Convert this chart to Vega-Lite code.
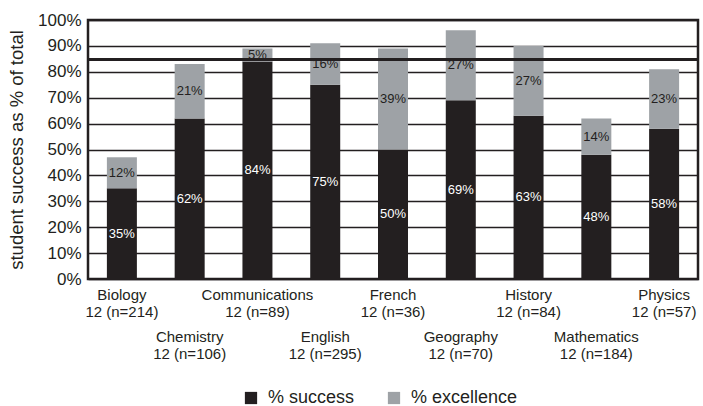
{
  "$schema": "https://vega.github.io/schema/vega-lite/v6.json",
  "width": 610,
  "height": 259,
  "autosize": {"type": "none"},
  "padding": {"left": 88, "top": 20, "right": 5, "bottom": 127},
  "background": "white",
  "config": {
    "font": "Liberation Sans",
    "view": {"stroke": "#231f20", "strokeWidth": 2.5}
  },
  "resolve": {"axis": {"x": "independent"}},
  "data": {
    "values": [
      {"subject": "Biology|12 (n=214)", "type": "% success", "k": 1, "pct": 0.35},
      {"subject": "Biology|12 (n=214)", "type": "% excellence", "k": 2, "pct": 0.12},
      {"subject": "Chemistry|12 (n=106)", "type": "% success", "k": 1, "pct": 0.62},
      {"subject": "Chemistry|12 (n=106)", "type": "% excellence", "k": 2, "pct": 0.21},
      {"subject": "Communications|12 (n=89)", "type": "% success", "k": 1, "pct": 0.84},
      {"subject": "Communications|12 (n=89)", "type": "% excellence", "k": 2, "pct": 0.05},
      {"subject": "English|12 (n=295)", "type": "% success", "k": 1, "pct": 0.75},
      {"subject": "English|12 (n=295)", "type": "% excellence", "k": 2, "pct": 0.16},
      {"subject": "French|12 (n=36)", "type": "% success", "k": 1, "pct": 0.50},
      {"subject": "French|12 (n=36)", "type": "% excellence", "k": 2, "pct": 0.39},
      {"subject": "Geography|12 (n=70)", "type": "% success", "k": 1, "pct": 0.69},
      {"subject": "Geography|12 (n=70)", "type": "% excellence", "k": 2, "pct": 0.27},
      {"subject": "History|12 (n=84)", "type": "% success", "k": 1, "pct": 0.63},
      {"subject": "History|12 (n=84)", "type": "% excellence", "k": 2, "pct": 0.27},
      {"subject": "Mathematics|12 (n=184)", "type": "% success", "k": 1, "pct": 0.48},
      {"subject": "Mathematics|12 (n=184)", "type": "% excellence", "k": 2, "pct": 0.14},
      {"subject": "Physics|12 (n=57)", "type": "% success", "k": 1, "pct": 0.58},
      {"subject": "Physics|12 (n=57)", "type": "% excellence", "k": 2, "pct": 0.23}
    ]
  },
  "layer": [
    {
      "mark": {"type": "bar", "width": 30},
      "encoding": {
        "x": {
          "field": "subject", "type": "nominal", "sort": null,
          "axis": {
            "title": null, "labelAngle": 0, "orient": "bottom",
            "labelExpr": "round(datum.index*8)%2 ? '' : split(datum.label, '|')",
            "labelFontSize": 15, "labelLineHeight": 17, "labelPadding": 8,
            "labelOverlap": false, "labelBound": false, "labelLimit": 0,
            "ticks": false, "domain": false, "grid": false, "labelColor": "#231f20",
            "labelBaseline": "top"
          }
        },
        "y": {
          "field": "pct", "type": "quantitative", "stack": "zero",
          "scale": {"domain": [0, 1], "nice": false},
          "axis": {
            "title": "student success as % of total", "format": ".0%",
            "values": [0, 0.1, 0.2, 0.3, 0.4, 0.5, 0.6, 0.7, 0.8, 0.9, 1],
            "tickCount": 11, "labelOverlap": false,
            "labelFontSize": 17, "titleFontSize": 18.5, "titleFontWeight": "normal",
            "ticks": false, "domain": false,
            "gridColor": "#231f20", "gridWidth": 1.5, "gridOpacity": 1,
            "labelPadding": 7, "titlePadding": 11,
            "labelColor": "#231f20", "titleColor": "#231f20"
          }
        },
        "color": {
          "field": "type", "type": "nominal",
          "scale": {"domain": ["% success", "% excellence"], "range": ["#231f20", "#9ea2a6"]},
          "legend": {
            "title": null, "orient": "none", "legendX": 154, "legendY": 369,
            "direction": "horizontal", "symbolType": "square", "symbolSize": 150,
            "symbolStrokeWidth": 0, "labelFontSize": 18, "labelColor": "#231f20",
            "labelOffset": 8, "columnPadding": 30
          }
        },
        "order": {"field": "k"}
      }
    },
    {
      "mark": {"type": "text", "fontSize": 13},
      "encoding": {
        "x": {
          "field": "subject", "type": "nominal", "sort": null,
          "axis": {
            "title": null, "labelAngle": 0, "orient": "bottom", "offset": 42,
            "labelExpr": "round(datum.index*8)%2 ? split(datum.label, '|') : ''",
            "labelFontSize": 15, "labelLineHeight": 17, "labelPadding": 8,
            "labelOverlap": false, "labelBound": false, "labelLimit": 0,
            "ticks": false, "domain": false, "grid": false, "labelColor": "#231f20",
            "labelBaseline": "top"
          }
        },
        "y": {
          "field": "pct", "type": "quantitative", "stack": "zero", "bandPosition": 0.5,
          "axis": {
            "title": "student success as % of total", "format": ".0%",
            "values": [0, 0.1, 0.2, 0.3, 0.4, 0.5, 0.6, 0.7, 0.8, 0.9, 1],
            "tickCount": 11, "labelOverlap": false,
            "labelFontSize": 17, "titleFontSize": 18.5, "titleFontWeight": "normal",
            "ticks": false, "domain": false,
            "gridColor": "#231f20", "gridWidth": 1.5, "gridOpacity": 1,
            "labelPadding": 7, "titlePadding": 11,
            "labelColor": "#231f20", "titleColor": "#231f20"
          }
        },
        "order": {"field": "k"},
        "detail": {"field": "type"},
        "text": {"field": "pct", "type": "quantitative", "format": ".0%"},
        "color": {"condition": {"test": "datum.type === '% success'", "value": "white"}, "value": "#231f20"}
      }
    },
    {
      "mark": {"type": "rule", "color": "#231f20", "strokeWidth": 2.5},
      "encoding": {
        "y": {
          "datum": 0.848, "type": "quantitative",
          "axis": {
            "title": "student success as % of total", "format": ".0%",
            "values": [0, 0.1, 0.2, 0.3, 0.4, 0.5, 0.6, 0.7, 0.8, 0.9, 1],
            "tickCount": 11, "labelOverlap": false,
            "labelFontSize": 17, "titleFontSize": 18.5, "titleFontWeight": "normal",
            "ticks": false, "domain": false,
            "gridColor": "#231f20", "gridWidth": 1.5, "gridOpacity": 1,
            "labelPadding": 7, "titlePadding": 11,
            "labelColor": "#231f20", "titleColor": "#231f20"
          }
        }
      }
    }
  ]
}
